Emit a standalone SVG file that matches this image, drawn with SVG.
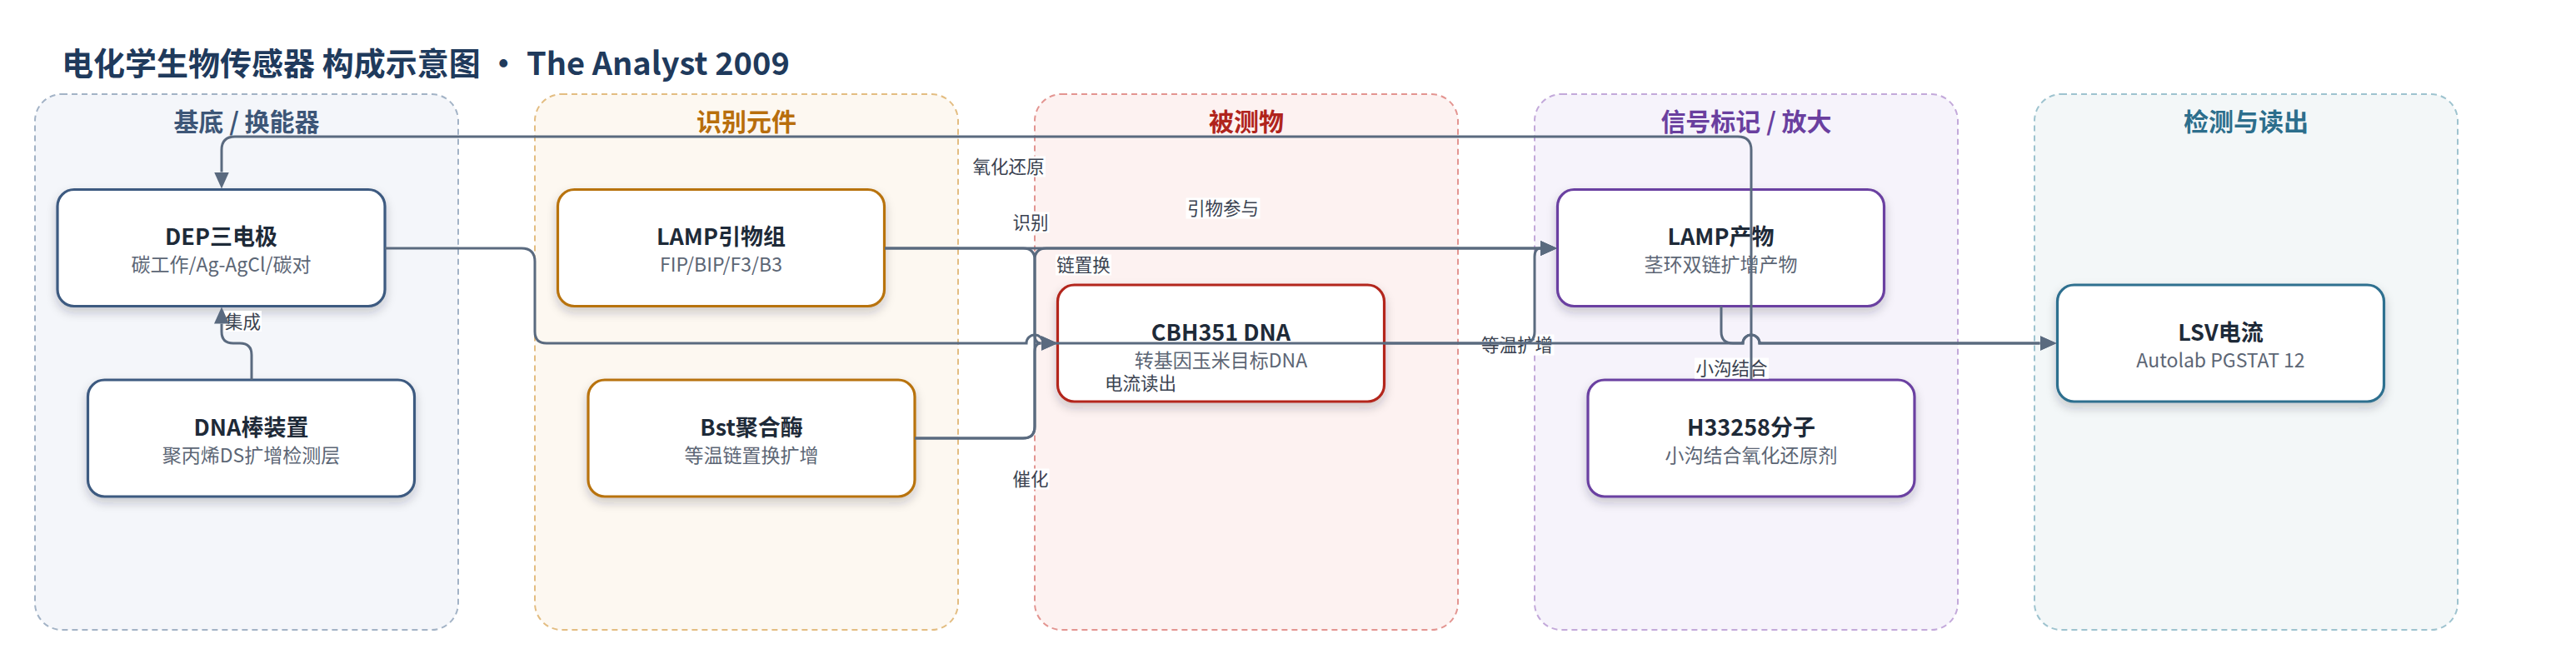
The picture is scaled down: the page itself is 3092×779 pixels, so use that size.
<svg xmlns="http://www.w3.org/2000/svg" width="3092" height="779" viewBox="0 0 3092 779">
<defs>
<style>
text{font-family:"Noto Sans CJK SC","Noto Sans",sans-serif;}
.title{font-size:38px;font-weight:700;fill:#1f3a5c;}
.lt{font-size:30px;font-weight:700;text-anchor:middle;}
.lane{stroke-width:2;stroke-dasharray:7 5;}
.node rect{fill:#ffffff;stroke-width:3.2;filter:url(#sh);}
.nt{font-size:27px;font-weight:700;fill:#1e2a38;text-anchor:middle;}
.ns{font-size:23px;fill:#5c6675;text-anchor:middle;}
.edge{fill:none;stroke:#5a6a7f;stroke-width:3;}
.lbl rect{fill:#ffffff;}
.lbl text{font-size:21.5px;fill:#3a4250;text-anchor:middle;}
</style>
<filter id="sh" x="-10%" y="-15%" width="120%" height="140%">
<feDropShadow dx="0" dy="6" stdDeviation="6" flood-color="#1e2a38" flood-opacity="0.22"/>
</filter>
<marker id="arr" markerWidth="20" markerHeight="18" refX="0" refY="9" orient="auto" markerUnits="userSpaceOnUse" viewBox="0 0 20 18">
<path d="M0,0 L20,9 L0,18 z" fill="#5a6a7f"/>
</marker>
</defs>
<rect x="0" y="0" width="3092" height="779" fill="#ffffff"/>
<text class="title" x="74" y="90">电化学生物传感器 构成示意图 · The Analyst 2009</text>

<g id="lanes">
<g id="lane-substrate">
<rect class="lane" x="42" y="113" width="508" height="643" rx="32" fill="#f4f6fa" stroke="#a3b3c6"/>
<text class="lt" x="296" y="157" fill="#3d5677">基底 / 换能器</text>
</g>
<g id="lane-recognition">
<rect class="lane" x="642" y="113" width="508" height="643" rx="32" fill="#fdf8f1" stroke="#e3bd82"/>
<text class="lt" x="896" y="157" fill="#b86e0c">识别元件</text>
</g>
<g id="lane-analyte">
<rect class="lane" x="1242" y="113" width="508" height="643" rx="32" fill="#fdf2f1" stroke="#e39591"/>
<text class="lt" x="1496" y="157" fill="#b0241c">被测物</text>
</g>
<g id="lane-signal">
<rect class="lane" x="1842" y="113" width="508" height="643" rx="32" fill="#f6f3fb" stroke="#c3a9da"/>
<text class="lt" x="2096" y="157" fill="#6a3f9f">信号标记 / 放大</text>
</g>
<g id="lane-readout">
<rect class="lane" x="2442" y="113" width="508" height="643" rx="32" fill="#f3f7f8" stroke="#9ec3cf"/>
<text class="lt" x="2696" y="157" fill="#2c6e8c">检测与读出</text>
</g>
</g>

<g id="node-dep" class="node">
<rect x="69" y="227.5" width="393" height="140" rx="20" stroke="#3d5a80"/>
<text class="nt" x="265.5" y="294">DEP三电极</text>
<text class="ns" x="265.5" y="326">碳工作/Ag-AgCl/碳对</text>
</g>
<g id="node-dnastick" class="node">
<rect x="105.5" y="456" width="392" height="140" rx="20" stroke="#3d5a80"/>
<text class="nt" x="301.5" y="522.5">DNA棒装置</text>
<text class="ns" x="301.5" y="554.5">聚丙烯DS扩增检测层</text>
</g>
<g id="node-primers" class="node">
<rect x="669.5" y="227.5" width="392" height="140" rx="20" stroke="#b8730f"/>
<text class="nt" x="865.5" y="294">LAMP引物组</text>
<text class="ns" x="865.5" y="326">FIP/BIP/F3/B3</text>
</g>
<g id="node-bst" class="node">
<rect x="706" y="456" width="392" height="140" rx="20" stroke="#b8730f"/>
<text class="nt" x="902" y="522.5">Bst聚合酶</text>
<text class="ns" x="902" y="554.5">等温链置换扩增</text>
</g>
<g id="node-cbh" class="node">
<rect x="1269.5" y="342" width="392" height="140" rx="20" stroke="#b3261e"/>
<text class="nt" x="1465.5" y="408.5">CBH351 DNA</text>
<text class="ns" x="1465.5" y="440.5">转基因玉米目标DNA</text>
</g>
<g id="node-lampproduct" class="node">
<rect x="1869.5" y="227.5" width="392" height="140" rx="20" stroke="#6b41a1"/>
<text class="nt" x="2065.5" y="294">LAMP产物</text>
<text class="ns" x="2065.5" y="326">茎环双链扩增产物</text>
</g>
<g id="node-h33258" class="node">
<rect x="1906" y="456" width="392" height="140" rx="20" stroke="#6b41a1"/>
<text class="nt" x="2102" y="522.5">H33258分子</text>
<text class="ns" x="2102" y="554.5">小沟结合氧化还原剂</text>
</g>
<g id="node-lsv" class="node">
<rect x="2469.5" y="342" width="392" height="140" rx="20" stroke="#2f6f8f"/>
<text class="nt" x="2665.5" y="408.5">LSV电流</text>
<text class="ns" x="2665.5" y="440.5">Autolab PGSTAT 12</text>
</g>

<g id="edge-labels">
<g class="lbl"><rect x="269" y="373" width="45" height="25"/><text x="291.5" y="393.5">集成</text></g>
<g class="lbl"><rect x="1166" y="187.5" width="89" height="25"/><text x="1210.5" y="208">氧化还原</text></g>
<g class="lbl"><rect x="1214.5" y="254.5" width="45" height="25"/><text x="1237" y="275">识别</text></g>
<g class="lbl"><rect x="1423.5" y="237.5" width="89" height="25"/><text x="1468" y="258">引物参与</text></g>
<g class="lbl"><rect x="1267" y="305.5" width="67" height="25"/><text x="1300.5" y="326">链置换</text></g>
<g class="lbl"><rect x="1324.5" y="447.5" width="89" height="25"/><text x="1369" y="468">电流读出</text></g>
<g class="lbl"><rect x="1776.5" y="401.5" width="89" height="25"/><text x="1821" y="422">等温扩增</text></g>
<g class="lbl"><rect x="2034" y="429.5" width="89" height="25"/><text x="2078.5" y="450">小沟结合</text></g>
<g class="lbl"><rect x="1214.5" y="562.5" width="45" height="25"/><text x="1237" y="583">催化</text></g>
</g>

<g id="connectors">
<path class="edge" marker-end="url(#arr)" d="M302 456 V426 Q302 412 288 412 H280 Q266 412 266 398 V388.5"/>
<path class="edge" marker-end="url(#arr)" d="M2102 456 V180 Q2102 164 2086 164 H282 Q266 164 266 180 V206.5"/>
<path class="edge" marker-end="url(#arr)" d="M462 298 H626 Q642 298 642 314 V398 Q642 412 656 412 H1232 A10 10 0 0 1 1252 412 H2092 A10 10 0 0 1 2112 412 H2448.5"/>
<path class="edge" marker-end="url(#arr)" d="M1062 298 H1228 Q1242 298 1242 312 V402 Q1242 412 1249.5 412"/>
<path class="edge" marker-end="url(#arr)" d="M1098 526 H1228 Q1242 526 1242 512 V422 Q1242 412 1249.5 412"/>
<path class="edge" marker-end="url(#arr)" d="M1098 526 H1228 Q1242 526 1242 512 V312 Q1242 298 1256 298 H1849"/>
<path class="edge" marker-end="url(#arr)" d="M1062 298 H1849"/>
<path class="edge" marker-end="url(#arr)" d="M1662 412 H1828 Q1842 412 1842 398 V308 Q1842 298 1849 298"/>
<path class="edge" marker-end="url(#arr)" d="M2066 367.5 V398 Q2066 412 2080 412 H2092 A10 10 0 0 1 2112 412 H2448.5"/>
</g>
</svg>
